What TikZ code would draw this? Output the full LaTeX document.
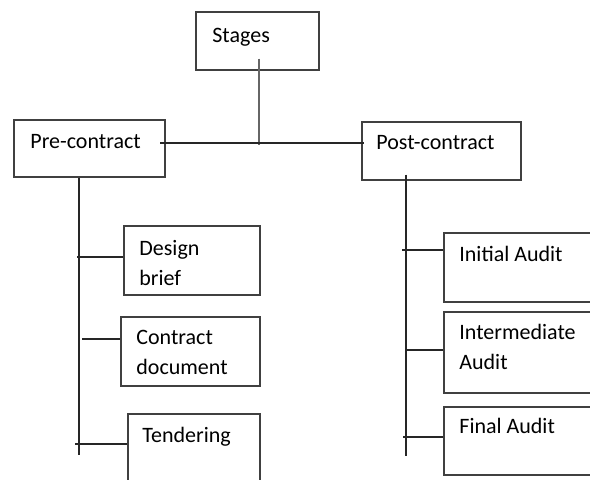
\documentclass[tikz,border=0pt]{standalone}
\usepackage{fontspec}
\setmainfont{Carlito}
\usetikzlibrary{positioning}

\begin{document}
\begin{tikzpicture}[x=0.5pt, y=-0.5pt,
        box/.style={draw=black!75, line width=0.75pt, anchor=north west, inner sep=0pt},
        txt/.style={anchor=base west, inner sep=0pt, align=left,
                    font=\fontsize{11}{15}\selectfont},
        lnk/.style={draw=black!85, line width=0.75pt}
      ]
        \useasboundingbox (0,0) rectangle (590,479);
        \clip (0,0) rectangle (590,479);

        % boxes
        \node[box, minimum width=61.5pt, minimum height=29pt] (stg) at (195,11) {};
        \node[box, minimum width=75.5pt, minimum height=28.5pt] (pre) at (13,119) {};
        \node[box, minimum width=79.5pt, minimum height=29pt] (post) at (361,121) {};
        \node[box, minimum width=68pt, minimum height=34.5pt] (dsg) at (123,225) {};
        \node[box, minimum width=69.5pt, minimum height=34.5pt] (ctr) at (120,316) {};
        \node[box, minimum width=66pt, minimum height=40pt] (tnd) at (127,413) {};
        \node[box, minimum width=200pt, minimum height=34.5pt] (ini) at (443,232) {};
        \node[box, minimum width=200pt, minimum height=40.5pt] (mid) at (443,311) {};
        \node[box, minimum width=200pt, minimum height=34pt] (fin) at (443,406) {};

        % labels (base = last line)
        \node[txt] (stgT) at (212,42) {Stages};
        \node[txt] (preT) at (30,148) {Pre-contract};
        \node[txt] (postT) at (376,149) {Post-contract};
        \node[txt] (dsgT) at (139,285) {Design\\brief};
        \node[txt] (ctrT) at (136,374) {Contract\\document};
        \node[txt] (tndT) at (142,442) {Tendering};
        \node[txt] (iniT) at (459,261) {Initial Audit};
        \node[txt] (midT) at (459,369) {Intermediate\\Audit};
        \node[txt] (finT) at (459,433) {Final Audit};

        % tree lines
        \draw[lnk, black!60] (stg.south west) ++(64,-12) -- ++(0,86);
        \draw[lnk] (pre.north west) ++(147,24) -- (post.north west |- 0,143) -- ++(3,0);
        \draw[lnk] (pre.south west) ++(66,0) -- ++(0,277);
        \draw[lnk] (post.south west) ++(45,-6) -- ++(0,281);

        \draw[lnk] (dsg.north west) ++(0,32) -- ++(-46,0);
        \draw[lnk] (ctr.north west) ++(0,23) -- ++(-38,0);
        \draw[lnk] (tnd.north west) ++(0,31) -- ++(-52,0);
        \draw[lnk] (ini.north west) ++(0,18) -- ++(-41,0);
        \draw[lnk] (mid.north west) ++(0,39) -- ++(-37,0);
        \draw[lnk] (fin.north west) ++(0,31) -- ++(-40,0);
      \end{tikzpicture}
\end{document}
